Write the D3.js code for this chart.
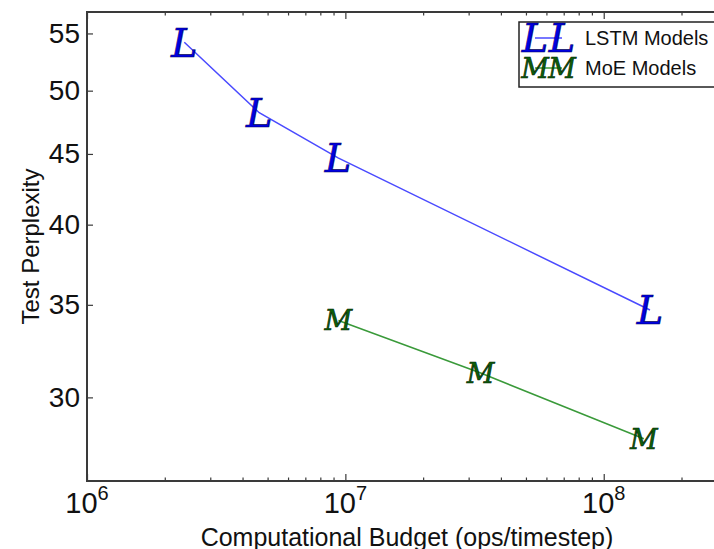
<!DOCTYPE html>
<html>
<head>
<meta charset="utf-8">
<script src="https://cdn.jsdelivr.net/npm/d3@7"></script>
<style>
  body { margin: 0; background: #fff; }
  svg { display: block; }
</style>
</head>
<body>
<script>
	// data
	var lstmBudget = [2.38e6, 4.64e6, 9.37e6, 1.51e8];
	var lstmPerplexity = [54.2, 48.2, 44.7, 34.7];
	var moeBudget = [9.4e6, 3.34e7, 1.43e8];
	var moePerplexity = [34.1, 31.24, 28.0];

	var xMajorTicks = [1e6, 1e7, 1e8];
	var xTickExponents = ["6", "7", "8"];
	var yTicks = [30, 35, 40, 45, 50, 55];
	var seriesNames = ["LSTM Models", "MoE Models"];
	var seriesMarkers = ["L", "M"];

	// size of svg and plot box
	var w = 714;
	var h = 549;
	var plotLeft = 87, plotTop = 12, plotRight = 727, plotBottom = 481;

	var svg = d3.select("body")
		.append("svg")
		.attr("width", w)
		.attr("height", h);

	// scales
	var xScale = d3.scaleLog()
		.domain([1e6, 3e8])
		.range([plotLeft, plotRight]);

	var yScale = d3.scaleLog()
		.domain([26.1, 57])
		.range([plotBottom, plotTop]);

	var frameColor = "#3a3a3a";

	// minor x ticks (2..9 per decade)
	var minorTicks = xScale.ticks().filter(function(d) {
		return xMajorTicks.indexOf(d) < 0;
	});

	function styleAxis(g) {
		g.select(".domain").remove();
		g.selectAll("line").attr("stroke", frameColor).attr("stroke-width", 1.2);
	}

	// bottom axis
	svg.append("g")
		.attr("transform", "translate(0," + plotBottom + ")")
		.call(d3.axisBottom(xScale).tickValues(xMajorTicks).tickSize(-7).tickFormat(""))
		.call(styleAxis);

	svg.append("g")
		.attr("transform", "translate(0," + plotBottom + ")")
		.call(d3.axisBottom(xScale).tickValues(minorTicks).tickSize(-3.5).tickFormat(""))
		.call(styleAxis);

	// top axis
	svg.append("g")
		.attr("transform", "translate(0," + plotTop + ")")
		.call(d3.axisTop(xScale).tickValues(xMajorTicks).tickSize(-7).tickFormat(""))
		.call(styleAxis);

	svg.append("g")
		.attr("transform", "translate(0," + plotTop + ")")
		.call(d3.axisTop(xScale).tickValues(minorTicks).tickSize(-3.5).tickFormat(""))
		.call(styleAxis);

	// x tick labels with exponent
	var xLabels = svg.append("g")
		.selectAll("text")
		.data(xMajorTicks)
		.enter()
		.append("text")
		.attr("x", function(d) { return xScale(d); })
		.attr("y", plotBottom + 32)
		.attr("text-anchor", "middle")
		.attr("font-family", "Liberation Sans, Arial, sans-serif")
		.attr("font-size", "29px")
		.attr("fill", "#111");
	xLabels.append("tspan").text("10");
	xLabels.append("tspan")
		.attr("dy", -13)
		.attr("font-size", "20px")
		.text(function(d, i) { return xTickExponents[i]; });

	// left axis
	var yAxis = d3.axisLeft(yScale)
		.tickValues(yTicks)
		.tickSize(-6)
		.tickPadding(7)
		.tickFormat(d3.format("d"));
	var yGuide = svg.append("g")
		.attr("transform", "translate(" + plotLeft + ",0)")
		.call(yAxis)
		.call(styleAxis);
	yGuide.selectAll("text")
		.attr("font-family", "Liberation Sans, Arial, sans-serif")
		.attr("font-size", "28px")
		.attr("fill", "#111");

	// frame
	svg.append("rect")
		.attr("x", plotLeft)
		.attr("y", plotTop)
		.attr("width", plotRight - plotLeft)
		.attr("height", plotBottom - plotTop)
		.attr("fill", "none")
		.attr("stroke", frameColor)
		.attr("stroke-width", 2);

	// axis titles
	svg.append("text")
		.attr("x", (plotLeft + plotRight) / 2)
		.attr("y", 546)
		.attr("text-anchor", "middle")
		.attr("font-family", "Liberation Sans, Arial, sans-serif")
		.attr("font-size", "25px")
		.attr("fill", "#111")
		.text("Computational Budget (ops/timestep)");

	svg.append("text")
		.attr("transform", "translate(39," + (plotTop + plotBottom) / 2 + ") rotate(-90)")
		.attr("text-anchor", "middle")
		.attr("font-family", "Liberation Sans, Arial, sans-serif")
		.attr("font-size", "24px")
		.attr("fill", "#111")
		.text("Test Perplexity");

	// lines and markers
	var series = [
		{ xs: lstmBudget, ys: lstmPerplexity, line: "#4a4aff", mark: "#0000e0", edge: "#00005a", size: 40 },
		{ xs: moeBudget, ys: moePerplexity, line: "#3a9a3a", mark: "#0b5e0b", edge: "#022002", size: 27 }
	];

	var line = d3.line()
		.x(function(d) { return xScale(d[0]); })
		.y(function(d) { return yScale(d[1]); });

	series.forEach(function(s, k) {
		var pts = s.xs.map(function(x, i) { return [x, s.ys[i]]; });

		svg.append("path")
			.datum(pts)
			.attr("d", line)
			.attr("fill", "none")
			.attr("stroke", s.line)
			.attr("stroke-width", 1.5);

		svg.append("g")
			.selectAll("text")
			.data(pts)
			.enter()
			.append("text")
			.attr("x", function(d) { return xScale(d[0]); })
			.attr("y", function(d) { return yScale(d[1]); })
			.attr("dy", "0.36em")
			.attr("text-anchor", "middle")
			.attr("font-family", "DejaVu Serif, serif")
			.attr("font-style", "italic")
			.attr("font-size", s.size + "px")
			.attr("fill", s.mark)
			.attr("stroke", s.edge)
			.attr("stroke-width", 0.6)
			.text(seriesMarkers[k]);
	});

	// legend
	var legend = svg.append("g");
	legend.append("rect")
		.attr("x", 519)
		.attr("y", 22)
		.attr("width", 210)
		.attr("height", 65)
		.attr("fill", "#fff")
		.attr("stroke", "#222")
		.attr("stroke-width", 1.5);

	series.forEach(function(s, k) {
		var ly = 38 + k * 30;
		legend.append("line")
			.attr("x1", 535).attr("x2", 562)
			.attr("y1", ly).attr("y2", ly)
			.attr("stroke", s.line)
			.attr("stroke-width", 1.5);
		[535, 562].forEach(function(lx) {
			legend.append("text")
				.attr("x", lx)
				.attr("y", ly)
				.attr("dy", "0.36em")
				.attr("text-anchor", "middle")
				.attr("font-family", "DejaVu Serif, serif")
				.attr("font-style", "italic")
				.attr("font-size", s.size + "px")
				.attr("fill", s.mark)
				.attr("stroke", s.edge)
				.attr("stroke-width", 0.6)
				.text(seriesMarkers[k]);
		});
		legend.append("text")
			.attr("x", 585)
			.attr("y", ly + 7)
			.attr("font-family", "Liberation Sans, Arial, sans-serif")
			.attr("font-size", "20px")
			.attr("fill", "#111")
			.text(seriesNames[k]);
	});
</script>
</body>
</html>
